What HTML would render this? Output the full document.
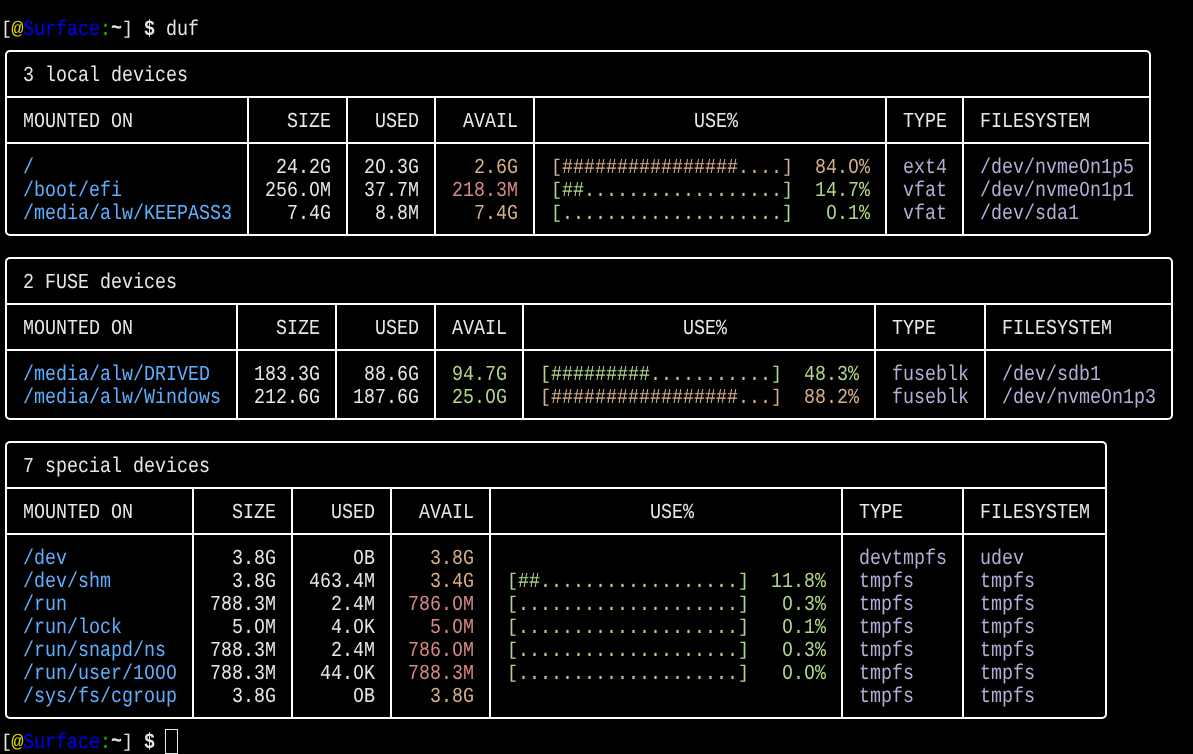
<!DOCTYPE html><html><head><meta charset="utf-8"><style>
html,body{margin:0;padding:0;background:#000;}
#s{position:relative;width:1193px;height:754px;overflow:hidden;background:#000;will-change:transform;}
.t{position:absolute;white-space:pre;font-family:"Liberation Mono",monospace;font-size:18.333px;line-height:23px;height:23px;transform-origin:0 4.5px;transform:scale(0.9998554452598895,1.17);text-rendering:geometricPrecision;}
svg{position:absolute;left:0;top:0;}.b{font-weight:bold}
.k{transform:translateY(1.3px) scale(0.9998554452598895,1)}
.z{transform-origin:5.5px 4.5px;transform:scale(0.9548619502231944,1.17)}
.a{transform-origin:5.5px 16.4px;transform:translateY(1.0px) scale(1.1198380986910763,1.0)}
.w{transform:translateY(-1.2px) scale(0.9998554452598895,1.17)}
</style></head><body><div id="s">
<svg width="1193" height="754" viewBox="0 0 1193 754" fill="none" stroke="#fff" stroke-width="2"><rect x="6" y="51" width="1144" height="184" rx="4" ry="4"/><path d="M6 97H1150"/><path d="M6 143H1150"/><path d="M248 97V235"/><path d="M347 97V235"/><path d="M435 97V235"/><path d="M534 97V235"/><path d="M886 97V235"/><path d="M963 97V235"/><rect x="6" y="258" width="1166" height="161" rx="4" ry="4"/><path d="M6 304H1172"/><path d="M6 350H1172"/><path d="M237 304V419"/><path d="M336 304V419"/><path d="M435 304V419"/><path d="M523 304V419"/><path d="M875 304V419"/><path d="M985 304V419"/><rect x="6" y="442" width="1100" height="276" rx="4" ry="4"/><path d="M6 488H1106"/><path d="M6 534H1106"/><path d="M193 488V718"/><path d="M292 488V718"/><path d="M391 488V718"/><path d="M490 488V718"/><path d="M842 488V718"/><path d="M963 488V718"/></svg>
<div class="t k" style="left:0.50px;top:17.00px;color:#e6e6e6">[</div>
<div class="t a" style="left:11.50px;top:17.00px;color:#d7d700">@</div>
<div class="t" style="left:22.50px;top:17.00px;color:#0000ff">Surface</div>
<div class="t" style="left:99.50px;top:17.00px;color:#00d000">:</div>
<div class="t b w" style="left:110.50px;top:17.00px;color:#e6e6e6">~</div>
<div class="t k" style="left:121.50px;top:17.00px;color:#e6e6e6">]</div>
<div class="t b" style="left:143.50px;top:17.00px;color:#e6e6e6">$</div>
<div class="t" style="left:165.50px;top:17.00px;color:#e6e6e6">duf</div>
<div class="t" style="left:22.50px;top:63.00px;color:#e6e6e6">3 local devices</div>
<div class="t" style="left:22.50px;top:109.00px;color:#e6e6e6">MOUNTED ON</div>
<div class="t" style="left:286.50px;top:109.00px;color:#e6e6e6">SIZE</div>
<div class="t" style="left:374.50px;top:109.00px;color:#e6e6e6">USED</div>
<div class="t" style="left:462.50px;top:109.00px;color:#e6e6e6">AVAIL</div>
<div class="t" style="left:693.50px;top:109.00px;color:#e6e6e6">USE%</div>
<div class="t" style="left:902.50px;top:109.00px;color:#e6e6e6">TYPE</div>
<div class="t" style="left:979.50px;top:109.00px;color:#e6e6e6">FILESYSTEM</div>
<div class="t" style="left:22.50px;top:155.00px;color:#5fafff">/</div>
<div class="t" style="left:275.50px;top:155.00px;color:#e6e6e6">24.2G</div>
<div class="t" style="left:363.50px;top:155.00px;color:#e6e6e6">2</div>
<div class="t z" style="left:374.50px;top:155.00px;color:#e6e6e6">O</div>
<div class="t" style="left:385.50px;top:155.00px;color:#e6e6e6">.3G</div>
<div class="t" style="left:473.50px;top:155.00px;color:#d7af87">2.6G</div>
<div class="t k" style="left:550.50px;top:155.00px;color:#d7af87">[</div>
<div class="t" style="left:561.50px;top:155.00px;color:#d7af87">################....</div>
<div class="t k" style="left:781.50px;top:155.00px;color:#d7af87">]</div>
<div class="t" style="left:792.50px;top:155.00px;color:#d7af87">  84.</div>
<div class="t z" style="left:847.50px;top:155.00px;color:#d7af87">O</div>
<div class="t" style="left:858.50px;top:155.00px;color:#d7af87">%</div>
<div class="t" style="left:902.50px;top:155.00px;color:#afafd7">ext4</div>
<div class="t" style="left:979.50px;top:155.00px;color:#afafd7">/dev/nvme</div>
<div class="t z" style="left:1078.50px;top:155.00px;color:#afafd7">O</div>
<div class="t" style="left:1089.50px;top:155.00px;color:#afafd7">n1p5</div>
<div class="t" style="left:22.50px;top:178.00px;color:#5fafff">/boot/efi</div>
<div class="t" style="left:264.50px;top:178.00px;color:#e6e6e6">256.</div>
<div class="t z" style="left:308.50px;top:178.00px;color:#e6e6e6">O</div>
<div class="t" style="left:319.50px;top:178.00px;color:#e6e6e6">M</div>
<div class="t" style="left:363.50px;top:178.00px;color:#e6e6e6">37.7M</div>
<div class="t" style="left:451.50px;top:178.00px;color:#d78787">218.3M</div>
<div class="t k" style="left:550.50px;top:178.00px;color:#afd787">[</div>
<div class="t" style="left:561.50px;top:178.00px;color:#afd787">##..................</div>
<div class="t k" style="left:781.50px;top:178.00px;color:#afd787">]</div>
<div class="t" style="left:792.50px;top:178.00px;color:#afd787">  14.7%</div>
<div class="t" style="left:902.50px;top:178.00px;color:#afafd7">vfat</div>
<div class="t" style="left:979.50px;top:178.00px;color:#afafd7">/dev/nvme</div>
<div class="t z" style="left:1078.50px;top:178.00px;color:#afafd7">O</div>
<div class="t" style="left:1089.50px;top:178.00px;color:#afafd7">n1p1</div>
<div class="t" style="left:22.50px;top:201.00px;color:#5fafff">/media/alw/KEEPASS3</div>
<div class="t" style="left:286.50px;top:201.00px;color:#e6e6e6">7.4G</div>
<div class="t" style="left:374.50px;top:201.00px;color:#e6e6e6">8.8M</div>
<div class="t" style="left:473.50px;top:201.00px;color:#d7af87">7.4G</div>
<div class="t k" style="left:550.50px;top:201.00px;color:#afd787">[</div>
<div class="t" style="left:561.50px;top:201.00px;color:#afd787">....................</div>
<div class="t k" style="left:781.50px;top:201.00px;color:#afd787">]</div>
<div class="t" style="left:792.50px;top:201.00px;color:#afd787">   </div>
<div class="t z" style="left:825.50px;top:201.00px;color:#afd787">O</div>
<div class="t" style="left:836.50px;top:201.00px;color:#afd787">.1%</div>
<div class="t" style="left:902.50px;top:201.00px;color:#afafd7">vfat</div>
<div class="t" style="left:979.50px;top:201.00px;color:#afafd7">/dev/sda1</div>
<div class="t" style="left:22.50px;top:270.00px;color:#e6e6e6">2 FUSE devices</div>
<div class="t" style="left:22.50px;top:316.00px;color:#e6e6e6">MOUNTED ON</div>
<div class="t" style="left:275.50px;top:316.00px;color:#e6e6e6">SIZE</div>
<div class="t" style="left:374.50px;top:316.00px;color:#e6e6e6">USED</div>
<div class="t" style="left:451.50px;top:316.00px;color:#e6e6e6">AVAIL</div>
<div class="t" style="left:682.50px;top:316.00px;color:#e6e6e6">USE%</div>
<div class="t" style="left:891.50px;top:316.00px;color:#e6e6e6">TYPE</div>
<div class="t" style="left:1001.50px;top:316.00px;color:#e6e6e6">FILESYSTEM</div>
<div class="t" style="left:22.50px;top:362.00px;color:#5fafff">/media/alw/DRIVED</div>
<div class="t" style="left:253.50px;top:362.00px;color:#e6e6e6">183.3G</div>
<div class="t" style="left:363.50px;top:362.00px;color:#e6e6e6">88.6G</div>
<div class="t" style="left:451.50px;top:362.00px;color:#afd787">94.7G</div>
<div class="t k" style="left:539.50px;top:362.00px;color:#afd787">[</div>
<div class="t" style="left:550.50px;top:362.00px;color:#afd787">#########...........</div>
<div class="t k" style="left:770.50px;top:362.00px;color:#afd787">]</div>
<div class="t" style="left:781.50px;top:362.00px;color:#afd787">  48.3%</div>
<div class="t" style="left:891.50px;top:362.00px;color:#afafd7">fuseblk</div>
<div class="t" style="left:1001.50px;top:362.00px;color:#afafd7">/dev/sdb1</div>
<div class="t" style="left:22.50px;top:385.00px;color:#5fafff">/media/alw/Windows</div>
<div class="t" style="left:253.50px;top:385.00px;color:#e6e6e6">212.6G</div>
<div class="t" style="left:352.50px;top:385.00px;color:#e6e6e6">187.6G</div>
<div class="t" style="left:451.50px;top:385.00px;color:#afd787">25.</div>
<div class="t z" style="left:484.50px;top:385.00px;color:#afd787">O</div>
<div class="t" style="left:495.50px;top:385.00px;color:#afd787">G</div>
<div class="t k" style="left:539.50px;top:385.00px;color:#d7af87">[</div>
<div class="t" style="left:550.50px;top:385.00px;color:#d7af87">#################...</div>
<div class="t k" style="left:770.50px;top:385.00px;color:#d7af87">]</div>
<div class="t" style="left:781.50px;top:385.00px;color:#d7af87">  88.2%</div>
<div class="t" style="left:891.50px;top:385.00px;color:#afafd7">fuseblk</div>
<div class="t" style="left:1001.50px;top:385.00px;color:#afafd7">/dev/nvme</div>
<div class="t z" style="left:1100.50px;top:385.00px;color:#afafd7">O</div>
<div class="t" style="left:1111.50px;top:385.00px;color:#afafd7">n1p3</div>
<div class="t" style="left:22.50px;top:454.00px;color:#e6e6e6">7 special devices</div>
<div class="t" style="left:22.50px;top:500.00px;color:#e6e6e6">MOUNTED ON</div>
<div class="t" style="left:231.50px;top:500.00px;color:#e6e6e6">SIZE</div>
<div class="t" style="left:330.50px;top:500.00px;color:#e6e6e6">USED</div>
<div class="t" style="left:418.50px;top:500.00px;color:#e6e6e6">AVAIL</div>
<div class="t" style="left:649.50px;top:500.00px;color:#e6e6e6">USE%</div>
<div class="t" style="left:858.50px;top:500.00px;color:#e6e6e6">TYPE</div>
<div class="t" style="left:979.50px;top:500.00px;color:#e6e6e6">FILESYSTEM</div>
<div class="t" style="left:22.50px;top:546.00px;color:#5fafff">/dev</div>
<div class="t" style="left:231.50px;top:546.00px;color:#e6e6e6">3.8G</div>
<div class="t z" style="left:352.50px;top:546.00px;color:#e6e6e6">O</div>
<div class="t" style="left:363.50px;top:546.00px;color:#e6e6e6">B</div>
<div class="t" style="left:429.50px;top:546.00px;color:#d7af87">3.8G</div>
<div class="t" style="left:858.50px;top:546.00px;color:#afafd7">devtmpfs</div>
<div class="t" style="left:979.50px;top:546.00px;color:#afafd7">udev</div>
<div class="t" style="left:22.50px;top:569.00px;color:#5fafff">/dev/shm</div>
<div class="t" style="left:231.50px;top:569.00px;color:#e6e6e6">3.8G</div>
<div class="t" style="left:308.50px;top:569.00px;color:#e6e6e6">463.4M</div>
<div class="t" style="left:429.50px;top:569.00px;color:#d7af87">3.4G</div>
<div class="t k" style="left:506.50px;top:569.00px;color:#afd787">[</div>
<div class="t" style="left:517.50px;top:569.00px;color:#afd787">##..................</div>
<div class="t k" style="left:737.50px;top:569.00px;color:#afd787">]</div>
<div class="t" style="left:748.50px;top:569.00px;color:#afd787">  11.8%</div>
<div class="t" style="left:858.50px;top:569.00px;color:#afafd7">tmpfs</div>
<div class="t" style="left:979.50px;top:569.00px;color:#afafd7">tmpfs</div>
<div class="t" style="left:22.50px;top:592.00px;color:#5fafff">/run</div>
<div class="t" style="left:209.50px;top:592.00px;color:#e6e6e6">788.3M</div>
<div class="t" style="left:330.50px;top:592.00px;color:#e6e6e6">2.4M</div>
<div class="t" style="left:407.50px;top:592.00px;color:#d78787">786.</div>
<div class="t z" style="left:451.50px;top:592.00px;color:#d78787">O</div>
<div class="t" style="left:462.50px;top:592.00px;color:#d78787">M</div>
<div class="t k" style="left:506.50px;top:592.00px;color:#afd787">[</div>
<div class="t" style="left:517.50px;top:592.00px;color:#afd787">....................</div>
<div class="t k" style="left:737.50px;top:592.00px;color:#afd787">]</div>
<div class="t" style="left:748.50px;top:592.00px;color:#afd787">   </div>
<div class="t z" style="left:781.50px;top:592.00px;color:#afd787">O</div>
<div class="t" style="left:792.50px;top:592.00px;color:#afd787">.3%</div>
<div class="t" style="left:858.50px;top:592.00px;color:#afafd7">tmpfs</div>
<div class="t" style="left:979.50px;top:592.00px;color:#afafd7">tmpfs</div>
<div class="t" style="left:22.50px;top:615.00px;color:#5fafff">/run/lock</div>
<div class="t" style="left:231.50px;top:615.00px;color:#e6e6e6">5.</div>
<div class="t z" style="left:253.50px;top:615.00px;color:#e6e6e6">O</div>
<div class="t" style="left:264.50px;top:615.00px;color:#e6e6e6">M</div>
<div class="t" style="left:330.50px;top:615.00px;color:#e6e6e6">4.</div>
<div class="t z" style="left:352.50px;top:615.00px;color:#e6e6e6">O</div>
<div class="t" style="left:363.50px;top:615.00px;color:#e6e6e6">K</div>
<div class="t" style="left:429.50px;top:615.00px;color:#d78787">5.</div>
<div class="t z" style="left:451.50px;top:615.00px;color:#d78787">O</div>
<div class="t" style="left:462.50px;top:615.00px;color:#d78787">M</div>
<div class="t k" style="left:506.50px;top:615.00px;color:#afd787">[</div>
<div class="t" style="left:517.50px;top:615.00px;color:#afd787">....................</div>
<div class="t k" style="left:737.50px;top:615.00px;color:#afd787">]</div>
<div class="t" style="left:748.50px;top:615.00px;color:#afd787">   </div>
<div class="t z" style="left:781.50px;top:615.00px;color:#afd787">O</div>
<div class="t" style="left:792.50px;top:615.00px;color:#afd787">.1%</div>
<div class="t" style="left:858.50px;top:615.00px;color:#afafd7">tmpfs</div>
<div class="t" style="left:979.50px;top:615.00px;color:#afafd7">tmpfs</div>
<div class="t" style="left:22.50px;top:638.00px;color:#5fafff">/run/snapd/ns</div>
<div class="t" style="left:209.50px;top:638.00px;color:#e6e6e6">788.3M</div>
<div class="t" style="left:330.50px;top:638.00px;color:#e6e6e6">2.4M</div>
<div class="t" style="left:407.50px;top:638.00px;color:#d78787">786.</div>
<div class="t z" style="left:451.50px;top:638.00px;color:#d78787">O</div>
<div class="t" style="left:462.50px;top:638.00px;color:#d78787">M</div>
<div class="t k" style="left:506.50px;top:638.00px;color:#afd787">[</div>
<div class="t" style="left:517.50px;top:638.00px;color:#afd787">....................</div>
<div class="t k" style="left:737.50px;top:638.00px;color:#afd787">]</div>
<div class="t" style="left:748.50px;top:638.00px;color:#afd787">   </div>
<div class="t z" style="left:781.50px;top:638.00px;color:#afd787">O</div>
<div class="t" style="left:792.50px;top:638.00px;color:#afd787">.3%</div>
<div class="t" style="left:858.50px;top:638.00px;color:#afafd7">tmpfs</div>
<div class="t" style="left:979.50px;top:638.00px;color:#afafd7">tmpfs</div>
<div class="t" style="left:22.50px;top:661.00px;color:#5fafff">/run/user/1</div>
<div class="t z" style="left:143.50px;top:661.00px;color:#5fafff">O</div>
<div class="t z" style="left:154.50px;top:661.00px;color:#5fafff">O</div>
<div class="t z" style="left:165.50px;top:661.00px;color:#5fafff">O</div>
<div class="t" style="left:209.50px;top:661.00px;color:#e6e6e6">788.3M</div>
<div class="t" style="left:319.50px;top:661.00px;color:#e6e6e6">44.</div>
<div class="t z" style="left:352.50px;top:661.00px;color:#e6e6e6">O</div>
<div class="t" style="left:363.50px;top:661.00px;color:#e6e6e6">K</div>
<div class="t" style="left:407.50px;top:661.00px;color:#d78787">788.3M</div>
<div class="t k" style="left:506.50px;top:661.00px;color:#afd787">[</div>
<div class="t" style="left:517.50px;top:661.00px;color:#afd787">....................</div>
<div class="t k" style="left:737.50px;top:661.00px;color:#afd787">]</div>
<div class="t" style="left:748.50px;top:661.00px;color:#afd787">   </div>
<div class="t z" style="left:781.50px;top:661.00px;color:#afd787">O</div>
<div class="t" style="left:792.50px;top:661.00px;color:#afd787">.</div>
<div class="t z" style="left:803.50px;top:661.00px;color:#afd787">O</div>
<div class="t" style="left:814.50px;top:661.00px;color:#afd787">%</div>
<div class="t" style="left:858.50px;top:661.00px;color:#afafd7">tmpfs</div>
<div class="t" style="left:979.50px;top:661.00px;color:#afafd7">tmpfs</div>
<div class="t" style="left:22.50px;top:684.00px;color:#5fafff">/sys/fs/cgroup</div>
<div class="t" style="left:231.50px;top:684.00px;color:#e6e6e6">3.8G</div>
<div class="t z" style="left:352.50px;top:684.00px;color:#e6e6e6">O</div>
<div class="t" style="left:363.50px;top:684.00px;color:#e6e6e6">B</div>
<div class="t" style="left:429.50px;top:684.00px;color:#d7af87">3.8G</div>
<div class="t" style="left:858.50px;top:684.00px;color:#afafd7">tmpfs</div>
<div class="t" style="left:979.50px;top:684.00px;color:#afafd7">tmpfs</div>
<div class="t k" style="left:0.50px;top:730.00px;color:#e6e6e6">[</div>
<div class="t a" style="left:11.50px;top:730.00px;color:#d7d700">@</div>
<div class="t" style="left:22.50px;top:730.00px;color:#0000ff">Surface</div>
<div class="t" style="left:99.50px;top:730.00px;color:#00d000">:</div>
<div class="t b w" style="left:110.50px;top:730.00px;color:#e6e6e6">~</div>
<div class="t k" style="left:121.50px;top:730.00px;color:#e6e6e6">]</div>
<div class="t b" style="left:143.50px;top:730.00px;color:#e6e6e6">$</div>
<div style="position:absolute;left:165px;top:729px;width:11px;height:23px;border:1px solid #e6e6e6"></div>
</div></body></html>
